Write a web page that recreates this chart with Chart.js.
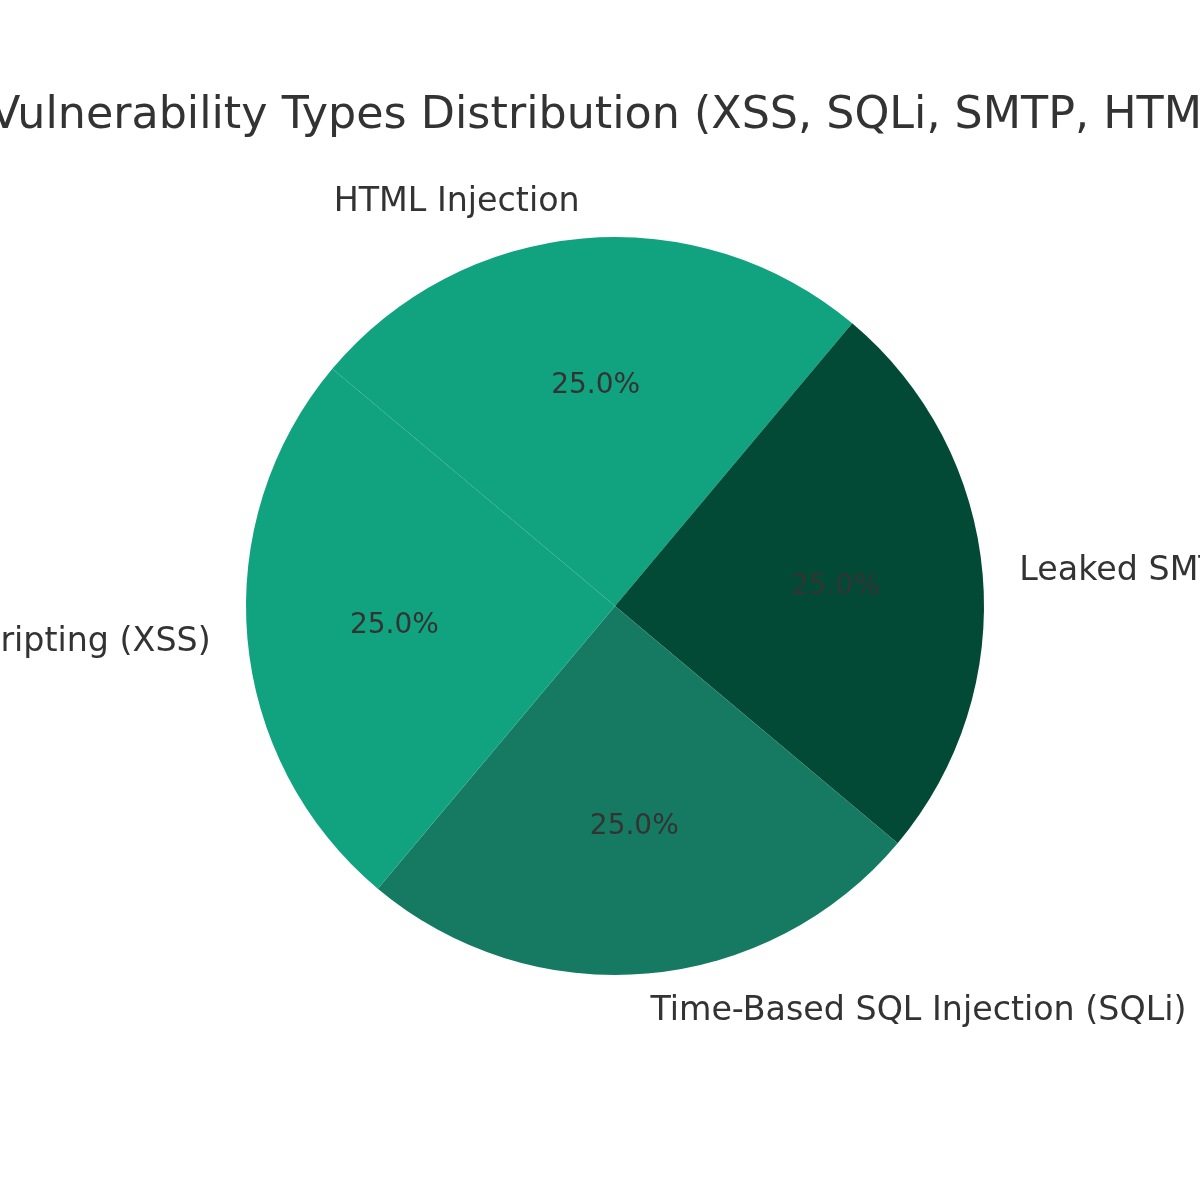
<!DOCTYPE html>
<html>
<head>
<meta charset="utf-8">
<script src="https://cdn.jsdelivr.net/npm/chart.js@4.4.1/dist/chart.umd.min.js"></script>
<style>
  html, body { margin: 0; padding: 0; background: #ffffff; }
  #wrap { width: 1200px; height: 1200px; }
</style>
</head>
<body>
<div id="wrap"><canvas id="vulnChart" width="1200" height="1200"></canvas></div>
<script>
// slices listed clockwise, starting from the top-left edge
const categories = [
  "HTML Injection",
  "Leaked SMTP Credentials",
  "Time-Based SQL Injection (SQLi)",
  "Cross-Site Scripting (XSS)"
];
const counts = [1, 1, 1, 1];
const sliceColors = ["#11a37f", "#034a36", "#167a62", "#11a37f"];
const chartTitle = "Vulnerability Types Distribution (XSS, SQLi, SMTP, HTML)";

const textColor = "#333333";
const fontFamily = "'DejaVu Sans', sans-serif";

// draws outside labels + percentages, like matplotlib autopct
const pieLabels = {
  id: "pieLabels",
  afterDatasetsDraw(chart) {
    const ctx = chart.ctx;
    const meta = chart.getDatasetMeta(0);
    const total = counts.reduce((s, v) => s + v, 0);
    ctx.save();
    ctx.fillStyle = textColor;
    ctx.textBaseline = "alphabetic";
    meta.data.forEach((arc, i) => {
      const p = arc.getProps(["x", "y", "startAngle", "endAngle", "outerRadius"], true);
      const mid = (p.startAngle + p.endAngle) / 2;
      const cx = Math.cos(mid), cy = Math.sin(mid);

      // percentage
      ctx.font = "28px " + fontFamily;
      ctx.textAlign = "center";
      const pct = (counts[i] / total * 100).toFixed(1) + "%";
      ctx.fillText(pct, p.x + cx * p.outerRadius * 0.6, p.y + cy * p.outerRadius * 0.6 + 7.5);

      // category label
      ctx.font = "33.3px " + fontFamily;
      ctx.textAlign = cx > 0 ? "left" : "right";
      ctx.fillText(categories[i], p.x + cx * p.outerRadius * 1.1, p.y + cy * p.outerRadius * 1.1 + 9.5);
    });

    ctx.font = "44.4px " + fontFamily;
    ctx.textAlign = "center";
    ctx.fillText(chartTitle, 617, 128);
    ctx.restore();
  }
};

const ctx = document.getElementById("vulnChart");

new Chart(ctx, {
  type: "pie",
  data: {
    labels: categories,
    datasets: [
      {
        data: counts,
        backgroundColor: sliceColors,
        borderWidth: 0,
      },
    ],
  },
  options: {
    responsive: false,
    animation: false,
    rotation: -50,
    layout: {
      padding: { left: 246, right: 216, top: 237, bottom: 225 },
    },
    plugins: {
      legend: { display: false },
      tooltip: { enabled: false },
      title: { display: false },
    },
  },
  plugins: [pieLabels],
});
</script>
</body>
</html>
